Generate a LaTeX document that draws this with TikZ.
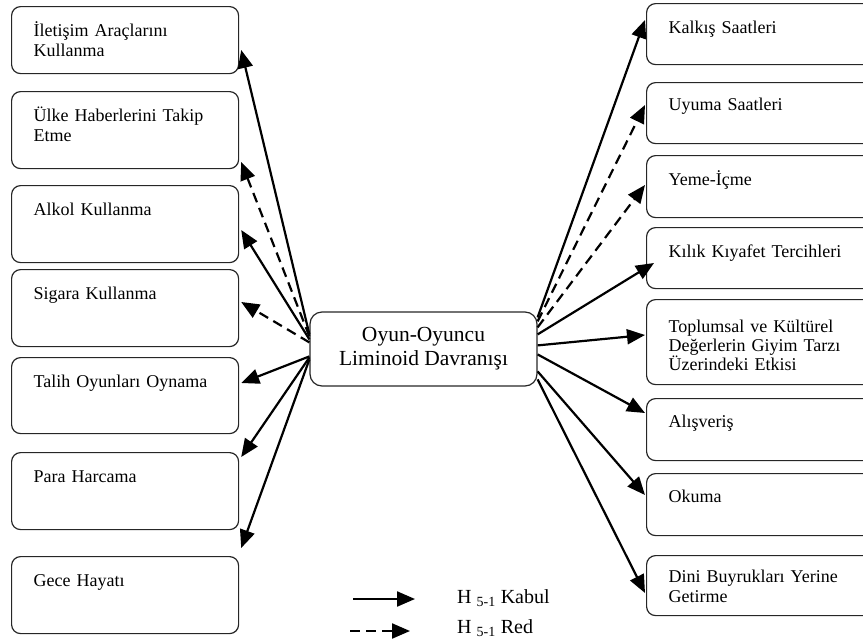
\documentclass[tikz,border=0pt]{standalone}
\usepackage{fontspec}
\setmainfont{Liberation Serif}
\usetikzlibrary{arrows.meta,calc,positioning}

\begin{document}
\begin{tikzpicture}[x=1pt, y=-1pt,
    box/.style={draw=black!85, line width=1.2pt, rounded corners=9pt, anchor=north west,
      inner xsep=22pt, inner ysep=0pt, align=left, text height=30pt,
      font=\fontsize{18}{20}\selectfont},
    lbox/.style={box, text width=183pt},
    rbox/.style={box, text width=200pt},
    core/.style={draw=black!85, line width=1.2pt, rounded corners=12pt, align=center,
      minimum width=227pt, minimum height=74pt, inner sep=0pt,
      font=\fontsize{21.5}{24}\selectfont},
    acc/.style={line width=2.2pt, -{Triangle[length=18pt,width=15pt]}},
    rej/.style={acc, dash pattern=on 10pt off 6pt},
    key/.style={anchor=base west, inner sep=0pt, font=\fontsize{20}{24}\selectfont}]

    \useasboundingbox (0,0) rectangle (863,643);
    \clip (0,0) rectangle (863,643);

    % Sol kutular
    \node[lbox, text depth=37pt] (l1) at (11,6) {İletişim Araçlarını\\Kullanma};
    \node[lbox, text depth=47pt] (l2) at (11,91) {Ülke Haberlerini Takip\\Etme};
    \node[lbox, text depth=47pt] (l3) at (11,185) {Alkol Kullanma};
    \node[lbox, text depth=47pt] (l4) at (11,269) {Sigara Kullanma};
    \node[lbox, text depth=46pt] (l5) at (11,357) {Talih Oyunları Oynama};
    \node[lbox, text depth=47pt] (l6) at (11,452) {Para Harcama};
    \node[lbox, text depth=47pt] (l7) at (11,556) {Gece Hayatı};

    % Sag kutular
    \node[rbox, text depth=31pt] (r1) at (646,3) {Kalkış Saatleri};
    \node[rbox, text height=28pt, text depth=33pt] (r2) at (646,82) {Uyuma Saatleri};
    \node[rbox, text depth=32pt] (r3) at (646,155) {Yeme-İçme};
    \node[rbox, text depth=31pt] (r4) at (646,227) {Kılık Kıyafet Tercihleri};
    \node[rbox, text height=33pt, text depth=52pt, font=\fontsize{18}{19}\selectfont] (r5) at (646,299)
      {Toplumsal ve Kültürel\\Değerlerin Giyim Tarzı\\Üzerindeki Etkisi};
    \node[rbox, text height=29pt, text depth=33pt] (r6) at (646,398) {Alışveriş};
    \node[rbox, text height=29pt, text depth=33pt] (r7) at (646,473) {Okuma};
    \node[rbox, text height=27pt, text depth=33pt] (r8) at (646,555) {Dini Buyrukları Yerine\\Getirme};

    % Merkez
    \node[core] (core) at (423.5,349) {Oyun-Oyuncu\\Liminoid Davranışı};

    % Oklar
    \foreach \n/\sy/\ey/\k in {l1/23/44/acc, l2/25/71/rej, l3/28/45/acc, l4/31/33/rej,
                               l5/45/26/acc, l6/46/5/acc, l7/48/-8/acc} {
      \draw[\k] ($(core.north west)+(0,\sy)$) -- ($(\n.north east)+(2,\ey)$);
    }
    \foreach \n/\sy/\ex/\ey/\k in {r1/6/-1/17/acc, r2/10/-1/23/rej, r3/16/-1/30/rej,
                                   r4/23/8/36/acc, r5/34/-1/36/acc, r6/43/-1/15/acc,
                                   r7/60/-1/22/acc, r8/68/-1/38/acc} {
      \draw[\k] ($(core.north east)+(0,\sy)$) -- ($(\n.north west)+(\ex,\ey)$);
    }

    % Lejant
    \node[key] (kabul) at (457,603) {H \textsubscript{5-1} Kabul};
    \node[key] (red) at (457,633) {H \textsubscript{5-1} Red};
    \coordinate (k0) at (353,599);
    \coordinate (k1) at (415,599);
    \coordinate (d0) at (350,631);
    \coordinate (d1) at (410,631);
    \draw[acc] (k0) -- (k1);
    \draw[rej] (d0) -- (d1);
  \end{tikzpicture}
\end{document}
